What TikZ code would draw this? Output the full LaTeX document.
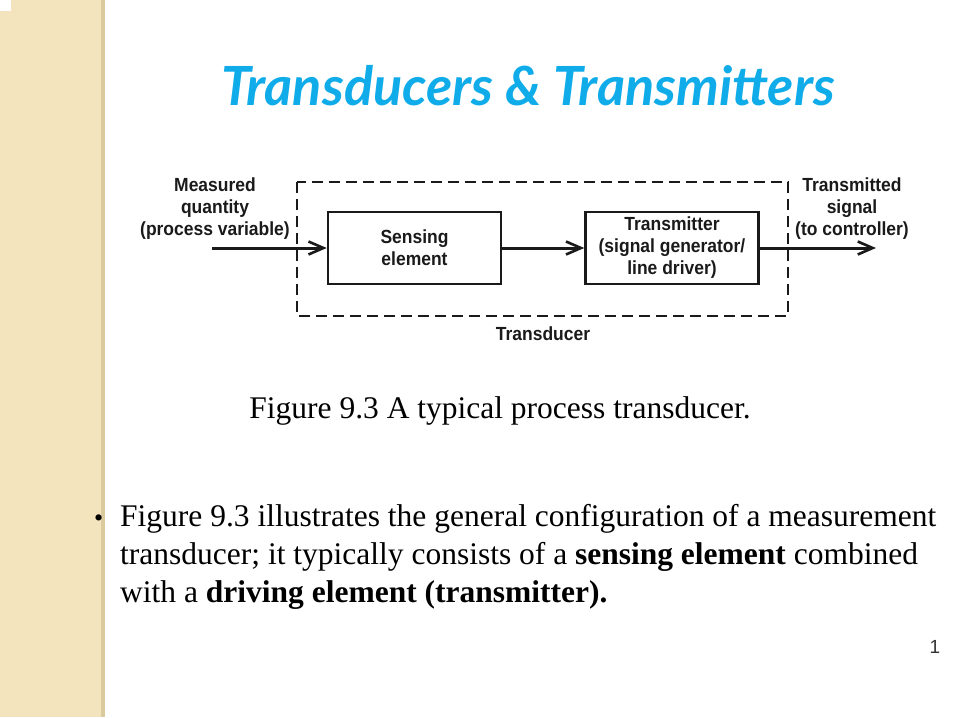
\documentclass[tikz,border=0pt]{standalone}
\usepackage{fontspec}
\setmainfont{Liberation Serif}
\newfontfamily\titlefont{Lato}
\newfontfamily\figfont[FakeStretch=0.92]{Liberation Sans}
\newfontfamily\pagefont{Liberation Sans}
\usetikzlibrary{arrows.meta}

\definecolor{titleblue}{HTML}{10ACEA}
\definecolor{stripbeige}{HTML}{F4E4BE}
\definecolor{stripedge}{HTML}{DACA9E}
\definecolor{ink}{HTML}{1A1A1A}

\tikzset{
  figtext/.style={align=center, text=ink, font=\figfont\bfseries\fontsize{19}{22}\selectfont},
  block/.style={figtext, draw=ink, line width=2.5pt, minimum width=173pt, minimum height=72pt},
  flow/.style={draw=ink, line width=3pt, -{Straight Barb[length=15pt,width=13pt,line width=2.6pt]}},
  boundary/.style={draw=ink, line width=2.2pt, dash pattern=on 11pt off 6pt},
  bodytext/.style={anchor=base west, text=black, font=\fontsize{31.5}{38}\selectfont, inner sep=0pt},
}

\begin{document}
\begin{tikzpicture}[x=1pt,y=-1pt]
  \useasboundingbox (0,0) rectangle (957,717);

  % Side strip
  \fill[stripbeige] (0,0) rectangle (104,717);
  \fill[stripedge] (101,0) rectangle (105,717);
  \fill[white] (0,0) rectangle (11,11);

  % Title
  \node[anchor=base, inner sep=0pt, font=\titlefont\bfseries\itshape\fontsize{54}{60}\selectfont, text=titleblue] (title) at (528,105) {Transducers \& Transmitters};

  % Blocks
  \node[block] (sensing) at (414.5,248) {Sensing\\element};
  \node[block] (transmitter) at (672,248) {Transmitter\\(signal generator/\\line driver)};

  % Signal ends
  \coordinate (input) at (212,248);
  \coordinate (output) at (876,248);

  % Transducer boundary
  \draw[boundary] (297,182) rectangle (788,316);
  \node[figtext] (transducer) at (543,334) {Transducer};

  % Signal flow
  \draw[flow] (input) -- (sensing);
  \draw[flow] (sensing) -- (transmitter);
  \draw[flow] (transmitter) -- (output);

  % Outer labels
  \node[figtext] (measured) at (215,209) {Measured\\quantity\\(process variable)};
  \node[figtext] (transmitted) at (852,209) {Transmitted\\signal\\(to controller)};

  % Caption
  \node[anchor=base, inner sep=0pt, font=\fontsize{31.5}{36}\selectfont, text=black] (caption) at (500,418) {Figure 9.3 A typical process transducer.};

  % Bullet text
  \node[bodytext, font=\fontsize{26}{30}\selectfont] (bullet) at (94,526) {\textbullet};
  \node[bodytext] (lineA) at (120,526) {Figure 9.3 illustrates the general configuration of a measurement};
  \node[bodytext] (lineB) at (120,564) {transducer; it typically consists of a \textbf{sensing element} combined};
  \node[bodytext] (lineC) at (120,602) {with a \textbf{driving element (transmitter).}};

  % Page number
  \node[anchor=base, inner sep=0pt, font=\pagefont\fontsize{19}{22}\selectfont, text=black!80] (pagenum) at (935,653) {1};
\end{tikzpicture}
\end{document}
